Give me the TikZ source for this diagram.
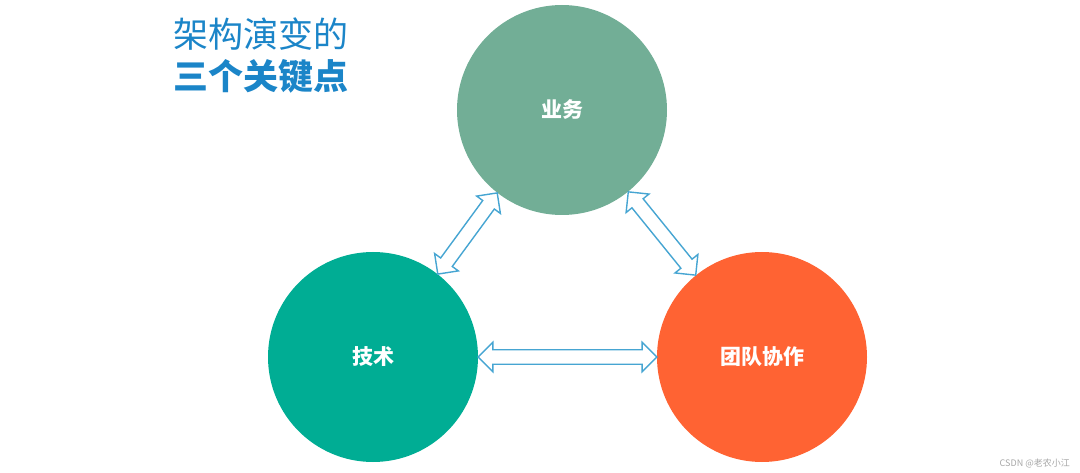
\documentclass[tikz,border=0pt]{standalone}
\usepackage{fontspec}
\newfontfamily\cjk{Noto Sans CJK SC}
\usetikzlibrary{calc,shapes.arrows}
\definecolor{yewuc}{RGB}{114,174,150}
\definecolor{jishuc}{RGB}{0,173,148}
\definecolor{tuanduic}{RGB}{255,99,51}
\definecolor{titleblue}{RGB}{27,133,200}
\definecolor{arrowblue}{RGB}{70,165,210}
\tikzset{
  bigcircle/.style={circle, minimum size=210pt, inner sep=0pt, text=white, font=\cjk\bfseries\fontsize{21}{24}\selectfont},
  hollow/.style={to path={
    let \p1=(\tikztostart), \p2=(\tikztotarget),
        \n1={atan2(\y2-\y1,\x2-\x1)}, \n2={veclen(\x2-\x1,\y2-\y1)} in
    ($(\p1)!0.5!(\p2)$) node[double arrow, draw=arrowblue, line width=1.4pt, fill=white,
      inner xsep=0pt, inner ysep=6.5pt, minimum width=1pt, minimum height=\n2,
      double arrow head extend=7.5pt, rotate=\n1] {}}}
}
\begin{document}
\begin{tikzpicture}[x=1pt,y=1pt]
\useasboundingbox (0,0) rectangle (1080,-473);
% title
\node[anchor=west, text=titleblue, font=\cjk\fontsize{35}{38}\selectfont, inner sep=0pt] (title1) at (173,-34) {架构演变的};
\node[anchor=west, text=titleblue, font=\cjk\bfseries\fontsize{35}{38}\selectfont, inner sep=0pt] (title2) at (173,-76) {三个关键点};
% circles
\node[bigcircle, fill=yewuc] (yewu) at (562,-110) {业务};
\node[bigcircle, fill=jishuc] (jishu) at (373,-357) {技术};
\node[bigcircle, fill=tuanduic] (tuandui) at (762,-357) {团队协作};
% arrows
\path (jishu.52) to[hollow] (yewu.232);
\path (yewu.309) to[hollow] (tuandui.129);
\path (jishu.east) to[hollow] (tuandui.west);
% watermark
\node[anchor=east, text=black!35, font=\cjk\fontsize{9}{10}\selectfont, inner sep=0pt] (mark) at (1070,-463) {CSDN @老农小江};
\end{tikzpicture}
\end{document}
